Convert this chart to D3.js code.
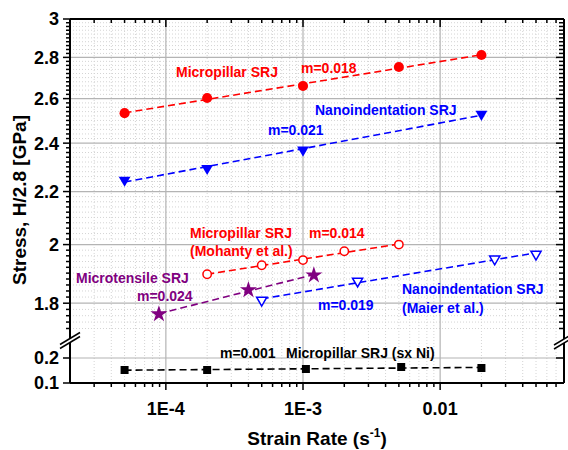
<!DOCTYPE html>
<html><head><meta charset="utf-8">
<script src="https://cdn.jsdelivr.net/npm/d3@7"></script>
<style>body{margin:0;background:#fff}svg{display:block;font-family:"Liberation Sans",Arial,sans-serif;font-weight:bold}</style>
</head><body><svg id="c" width="568" height="450"></svg>
<script>
// ---- data ----
const micropillarX = [5e-5, 2e-4, 1e-3, 5e-3, 0.02];
const micropillarY = [2.533, 2.603, 2.66, 2.752, 2.812];
const nanoX = [5e-5, 2e-4, 1e-3, 0.02];
const nanoY = [2.246, 2.294, 2.371, 2.528];
const mohantyX = [2e-4, 5e-4, 1e-3, 2e-3, 5e-3];
const mohantyY = [1.896, 1.927, 1.945, 1.976, 2.0];
const tensileX = [8.9e-5, 4e-4, 1.2e-3];
const tensileY = [1.765, 1.843, 1.893];
const maierX = [5e-4, 2.5e-3, 0.025, 0.05];
const maierY = [1.81, 1.873, 1.949, 1.966];
const sxNiX = [5e-5, 2e-4, 1.05e-3, 5.2e-3, 0.02];
const sxNiY = [0.152, 0.152, 0.156, 0.164, 0.16];
const xTickValues = [1e-4, 1e-3, 1e-2];
const xTickLabels = ["1E-4", "1E-3", "0.01"];
const yUpperTicks = [1.8, 2, 2.2, 2.4, 2.6, 2.8, 3];
const yUpperLabels = ["1.8", "2", "2.2", "2.4", "2.6", "2.8", "3"];
const yLowerTicks = [0.1, 0.2];
const yLowerLabels = ["0.1", "0.2"];

// ---- layout ----
const svg = d3.select("#c");
const L = 70, R = 564, T = 19, B = 383, upB = 335, loT = 345.5;
const x = d3.scaleLog().domain([2e-5, 0.08]).range([L, R]);
const yU = d3.scaleLog().domain([1.7, 3]).range([upB, T]);
const yL = d3.scaleLinear().domain([0.1, 0.25]).range([B, loT]);

svg.append("rect").attr("width", 568).attr("height", 450).attr("fill", "#fff");

// minor ticks
const xMinor = [];
for (let e = -5; e <= -2; e++) for (let k = 2; k <= 9; k++) { const v = k * Math.pow(10, e); if (v > 2e-5 && v < 0.08) xMinor.push(v); }
xMinor.push(2e-5);
const yMinor = [];
for (let i = 86; i <= 149; i++) { const v = i / 50; if (i % 10 !== 0) yMinor.push(v); }

const g = svg.append("g");
// minor grid
g.selectAll(".mgx").data(xMinor.filter(v => v > 2.01e-5)).join("line")
  .attr("x1", d => x(d)).attr("x2", d => x(d)).attr("y1", T).attr("y2", B)
  .attr("stroke", "#d4d4d4").attr("stroke-width", 1).attr("stroke-dasharray", "1,2");
g.selectAll(".mgy").data(yMinor).join("line")
  .attr("x1", L).attr("x2", R).attr("y1", d => yU(d)).attr("y2", d => yU(d))
  .attr("stroke", "#d4d4d4").attr("stroke-width", 1).attr("stroke-dasharray", "1,2");
// major grid
g.selectAll(".Mgx").data(xTickValues).join("line")
  .attr("x1", d => x(d)).attr("x2", d => x(d)).attr("y1", T).attr("y2", B)
  .attr("stroke", "#b4b4b4").attr("stroke-width", 1.2);
g.selectAll(".Mgy").data(yUpperTicks.filter(v => v < 3)).join("line")
  .attr("x1", L).attr("x2", R).attr("y1", d => yU(d)).attr("y2", d => yU(d))
  .attr("stroke", "#b4b4b4").attr("stroke-width", 1.2);
g.append("line").attr("x1", L).attr("x2", R).attr("y1", yL(0.2)).attr("y2", yL(0.2))
  .attr("stroke", "#b4b4b4").attr("stroke-width", 1.2);

// fit lines
function fitLine(xs, ys, yScale, color, logY) {
  const lx = xs.map(Math.log10), ly = ys.map(v => logY ? Math.log10(v) : v);
  const mx = d3.mean(lx), my = d3.mean(ly);
  let num = 0, den = 0;
  lx.forEach((v, i) => { num += (v - mx) * (ly[i] - my); den += (v - mx) * (v - mx); });
  const m = num / den, a = my - m * mx;
  const f = lv => { const yv = a + m * lv; return logY ? Math.pow(10, yv) : yv; };
  const x0 = d3.min(lx), x1 = d3.max(lx);
  svg.append("line").attr("x1", x(Math.pow(10, x0))).attr("y1", yScale(f(x0)))
    .attr("x2", x(Math.pow(10, x1))).attr("y2", yScale(f(x1)))
    .attr("stroke", color).attr("stroke-width", 1.6).attr("stroke-dasharray", "7,4");
}
fitLine(micropillarX, micropillarY, yU, "#ff0000", true);
fitLine(nanoX, nanoY, yU, "#0000ff", true);
fitLine(mohantyX, mohantyY, yU, "#ff0000", true);
fitLine(tensileX, tensileY, yU, "#800080", true);
fitLine(maierX, maierY, yU, "#0000ff", true);
fitLine(sxNiX, sxNiY, yL, "#000000", false);

// markers
function pts(xs, ys, yScale, type, size, fill, stroke, rot) {
  svg.append("g").selectAll("path").data(xs.map((v, i) => [v, ys[i]])).join("path")
    .attr("d", d3.symbol().type(type).size(size))
    .attr("transform", d => `translate(${x(d[0])},${yScale(d[1])})` + (rot ? " rotate(180)" : ""))
    .attr("fill", fill).attr("stroke", stroke).attr("stroke-width", 1.5);
}
pts(micropillarX, micropillarY, yU, d3.symbolCircle, 80, "#ff0000", "none");
pts(nanoX, nanoY, yU, d3.symbolTriangle, 60, "#0000ff", "none", true);
pts(mohantyX, mohantyY, yU, d3.symbolCircle, 55, "#fff", "#ff0000");
pts(tensileX, tensileY, yU, d3.symbolStar, 90, "#800080", "none");
pts(maierX, maierY, yU, d3.symbolTriangle, 45, "#fff", "#0000ff", true);
pts(sxNiX, sxNiY, yL, d3.symbolSquare, 64, "#000", "none");

// axes frame
const ax = svg.append("g").attr("stroke", "#000").attr("stroke-width", 2);
ax.append("line").attr("x1", L).attr("x2", R).attr("y1", T).attr("y2", T);
ax.append("line").attr("x1", L).attr("x2", R).attr("y1", B).attr("y2", B);
ax.append("line").attr("x1", L).attr("x2", L).attr("y1", T).attr("y2", B);
ax.append("line").attr("x1", R).attr("x2", R).attr("y1", T).attr("y2", B);

// ticks
const tk = svg.append("g").attr("stroke", "#000").attr("stroke-width", 1.5);
xMinor.filter(v => v > 2.01e-5).forEach(v => {
  tk.append("line").attr("x1", x(v)).attr("x2", x(v)).attr("y1", B).attr("y2", B + 4);
  tk.append("line").attr("x1", x(v)).attr("x2", x(v)).attr("y1", T).attr("y2", T + 4);
});
xTickValues.forEach(v => {
  tk.append("line").attr("x1", x(v)).attr("x2", x(v)).attr("y1", B).attr("y2", B + 7);
  tk.append("line").attr("x1", x(v)).attr("x2", x(v)).attr("y1", T).attr("y2", T + 8);
});
yMinor.forEach(v => {
  tk.append("line").attr("x1", L - 4).attr("x2", L).attr("y1", yU(v)).attr("y2", yU(v));
  tk.append("line").attr("x1", R - 5).attr("x2", R).attr("y1", yU(v)).attr("y2", yU(v));
});
yUpperTicks.forEach(v => {
  tk.append("line").attr("x1", L - 7).attr("x2", L).attr("y1", yU(v)).attr("y2", yU(v));
  tk.append("line").attr("x1", R - 8).attr("x2", R).attr("y1", yU(v)).attr("y2", yU(v));
});
yLowerTicks.forEach(v => {
  tk.append("line").attr("x1", L - 7).attr("x2", L).attr("y1", yL(v)).attr("y2", yL(v));
  tk.append("line").attr("x1", R - 8).attr("x2", R).attr("y1", yL(v)).attr("y2", yL(v));
});

// break marks
function brk(cx, cy) {
  const b = svg.append("g");
  b.append("polygon").attr("points", `${cx-10},${cy+4} ${cx+10},${cy-8} ${cx+10},${cy-4} ${cx-10},${cy+8}`).attr("fill", "#fff");
  b.append("line").attr("x1", cx - 10).attr("y1", cy + 4).attr("x2", cx + 10).attr("y2", cy - 8).attr("stroke", "#000").attr("stroke-width", 1.5);
  b.append("line").attr("x1", cx - 10).attr("y1", cy + 8).attr("x2", cx + 10).attr("y2", cy - 4).attr("stroke", "#000").attr("stroke-width", 1.5);
}
brk(L, 340.5);
brk(R, 341);

// tick labels
const lab = svg.append("g").attr("font-size", 18).attr("fill", "#000");
xTickValues.forEach((v, i) => lab.append("text").attr("x", x(v)).attr("y", 415).attr("text-anchor", "middle").text(xTickLabels[i]));
yUpperTicks.forEach((v, i) => lab.append("text").attr("x", 59).attr("y", yU(v)).attr("dy", "0.36em").attr("text-anchor", "end").text(yUpperLabels[i]));
yLowerTicks.forEach((v, i) => lab.append("text").attr("x", 59).attr("y", yL(v)).attr("dy", "0.36em").attr("text-anchor", "end").text(yLowerLabels[i]));

// axis titles
const xt = svg.append("text").attr("x", 317).attr("y", 445).attr("text-anchor", "middle").attr("font-size", 19);
xt.append("tspan").text("Strain Rate (s");
xt.append("tspan").attr("font-size", 12).attr("dy", -8).text("-1");
xt.append("tspan").attr("dy", 8).text(")");
svg.append("text").attr("transform", "translate(26,200) rotate(-90)").attr("text-anchor", "middle").attr("font-size", 19).text("Stress, H/2.8 [GPa]");

// annotations
const ann = [
  ["Micropillar SRJ", 176, 77, "#ff0000"],
  ["m=0.018", 301, 73, "#ff0000"],
  ["Nanoindentation SRJ", 315, 115, "#0000ff"],
  ["m=0.021", 268, 135, "#0000ff"],
  ["Micropillar SRJ", 190, 238, "#ff0000"],
  ["(Mohanty et al.)", 190, 256, "#ff0000"],
  ["m=0.014", 309, 238, "#ff0000"],
  ["Microtensile SRJ", 76, 283, "#800080"],
  ["m=0.024", 137, 301, "#800080"],
  ["m=0.019", 318, 310, "#0000ff"],
  ["Nanoindentation SRJ", 402, 294, "#0000ff"],
  ["(Maier et al.)", 402, 313, "#0000ff"],
  ["m=0.001", 220, 358, "#000"],
  ["Micropillar SRJ (sx Ni)", 286, 358, "#000"]
];
svg.append("g").attr("font-size", 14).selectAll("text").data(ann).join("text")
  .attr("x", d => d[1]).attr("y", d => d[2]).attr("fill", d => d[3]).text(d => d[0]);
</script></body></html>
